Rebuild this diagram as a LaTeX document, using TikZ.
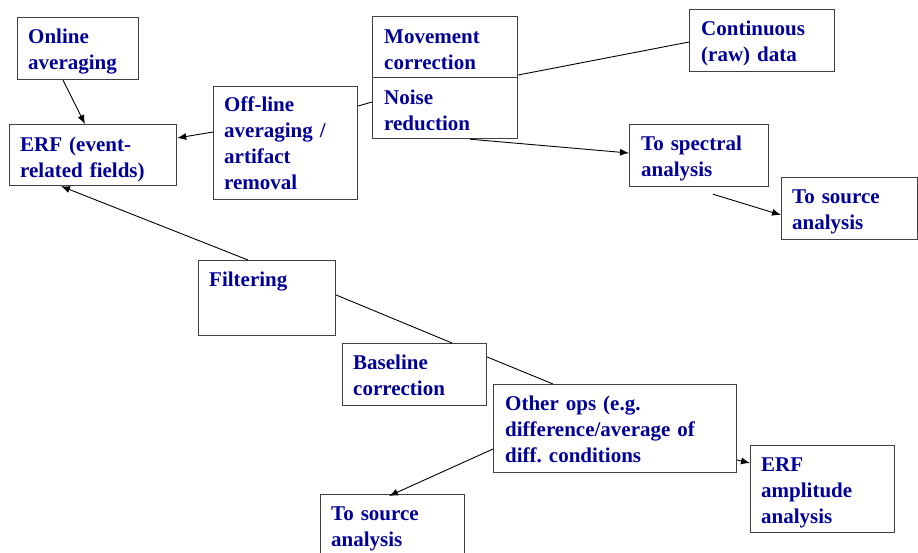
\documentclass[tikz,border=0pt]{standalone}
\usepackage{fontspec}
\setmainfont{Liberation Serif}
\usetikzlibrary{arrows.meta,calc}
\frenchspacing
\definecolor{labelblue}{RGB}{0,0,153}
\definecolor{boxgray}{RGB}{64,64,64}
\tikzset{
  stage/.style={draw=boxgray, line width=1.2pt, inner sep=0pt, anchor=north west, fill=white},
  caption/.style={anchor=base west, inner sep=0pt, text width=260pt, align=left,
    text=labelblue, font=\fontsize{21}{26}\selectfont\bfseries},
  flow/.style={draw=black, line width=0.9pt, -{Latex[length=9pt,width=7pt]}},
  link/.style={draw=black, line width=0.9pt},
}
\begin{document}
\begin{tikzpicture}[x=1pt,y=-1pt]
\useasboundingbox[fill=white] (0,0) rectangle (918,552);

% processing stages
\node[stage, minimum width=121pt, minimum height=62pt] (online) at (17,17) {};
\node[stage, minimum width=167pt, minimum height=61pt] (erf) at (9,124) {};
\node[stage, minimum width=144pt, minimum height=113pt] (offline) at (213,86) {};
\node[stage, minimum width=145pt, minimum height=61pt] (mov) at (372,16) {};
\node[stage, minimum width=145pt, minimum height=61pt] (noise) at (372,77) {};
\node[stage, minimum width=145pt, minimum height=62pt] (cont) at (689,9) {};
\node[stage, minimum width=139pt, minimum height=62pt] (spec) at (629,124) {};
\node[stage, minimum width=136pt, minimum height=62pt] (srcA) at (781,177) {};
\node[stage, minimum width=137pt, minimum height=75pt] (filt) at (198,260) {};
\node[stage, minimum width=144pt, minimum height=62pt] (base) at (342,343) {};
\node[stage, minimum width=243pt, minimum height=88pt] (other) at (493,384) {};
\node[stage, minimum width=144pt, minimum height=87pt] (ampl) at (750,445) {};
\node[stage, minimum width=144pt, minimum height=70pt] (srcB) at (320,494) {};

% stage labels
\node[caption] (online-t) at ($(online.north west)+(11,26.5)$) {Online\\averaging};
\node[caption] (erf-t) at ($(erf.north west)+(11,27.5)$) {ERF (event-\\related fields)};
\node[caption] (offline-t) at ($(offline.north west)+(11,25.5)$) {Off-line\\averaging /\\artifact\\removal};
\node[caption] (mov-t) at ($(mov.north west)+(12,27)$) {Movement\\correction};
\node[caption] (noise-t) at ($(noise.north west)+(12,27)$) {Noise\\reduction};
\node[caption] (cont-t) at ($(cont.north west)+(12,26.5)$) {Continuous\\(raw) data};
\node[caption] (spec-t) at ($(spec.north west)+(12,26.5)$) {To spectral\\analysis};
\node[caption] (srcA-t) at ($(srcA.north west)+(11,26.5)$) {To source\\analysis};
\node[caption] (filt-t) at ($(filt.north west)+(11,26)$) {Filtering};
\node[caption] (base-t) at ($(base.north west)+(11,26)$) {Baseline\\correction};
\node[caption] (other-t) at ($(other.north west)+(12,26)$) {Other ops (e.g.\\difference/average of\\diff. conditions};
\node[caption] (ampl-t) at ($(ampl.north west)+(11,26)$) {ERF\\amplitude\\analysis};
\node[caption] (srcB-t) at ($(srcB.north west)+(11,26.5)$) {To source\\analysis};

% connectors
\draw[flow] ($(online.south west)+(46,0)$) -- ($(erf.north west)+(76,0)$);
\draw[flow] ($(offline.north west)+(0,46)$) -- ($(erf.north east)+(0,14)$);
\draw[link] ($(offline.north east)+(0,20)$) -- ($(noise.north west)+(0,25)$);
\draw[link] ($(cont.north west)+(0,33)$) -- ($(mov.north east)+(0,59)$);
\draw[flow] ($(noise.south west)+(98,0)$) -- ($(spec.north west)+(0,29)$);
\coordinate (specout) at ($(spec.south west)+(84,7)$);
\draw[flow] (specout) -- ($(srcA.north west)+(0,38)$);
\draw[flow] ($(filt.north west)+(50,0)$) -- ($(erf.south west)+(52,0)$);
\draw[link] ($(filt.north east)+(0,35)$) -- ($(base.north west)+(110,0)$);
\draw[link] ($(base.north east)+(0,14)$) -- ($(other.north west)+(60,0)$);
\draw[flow] ($(other.north west)+(0,65)$) -- ($(srcB.north west)+(69,2)$);
\draw[flow] ($(other.north east)+(0,76)$) -- ($(ampl.north west)+(0,18)$);
\end{tikzpicture}
\end{document}
